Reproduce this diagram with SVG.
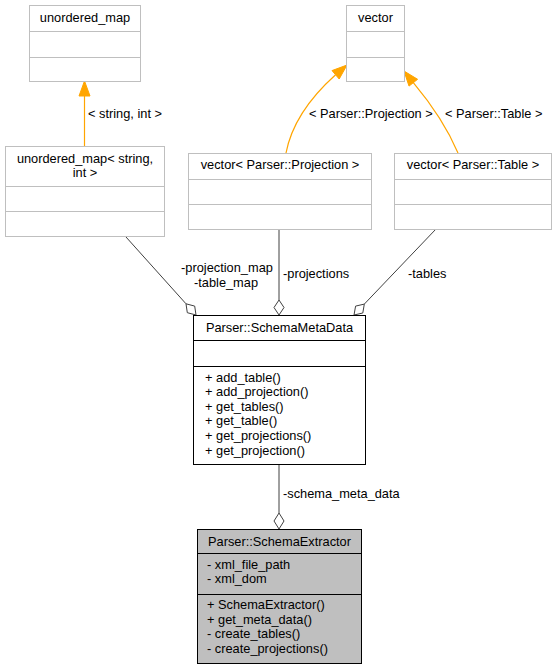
<svg xmlns="http://www.w3.org/2000/svg" width="556" height="669" viewBox="0 0 556 669">
<style>
text{font-family:"Liberation Sans",Arial,Helvetica,sans-serif;font-size:12.8px;fill:#000}
.c{text-anchor:middle}
.gb{fill:#fff;stroke:#bfbfbf;stroke-width:1}
.bb{fill:#fff;stroke:#000;stroke-width:1}
.gf{fill:#bfbfbf;stroke:#000;stroke-width:1}
.gl{stroke:#bfbfbf;stroke-width:1}
.bl{stroke:#000;stroke-width:1}
.inh{fill:none;stroke:#ffa500;stroke-width:1.2}
.ah{fill:#ffa500;stroke:#ffa500;stroke-width:1}
.use{fill:none;stroke:#404040;stroke-width:1}
.dm{fill:#fff;stroke:#404040;stroke-width:1}
</style>
<rect width="556" height="669" fill="#fff"/>
<g id="connectors">
  <path class="inh" d="M84.5,146 L84.5,96"/>
  <polygon class="ah" points="84.5,81 90,96 79,96"/>
  <text x="88" y="118">&lt; string, int &gt;</text>
  <path class="inh" d="M286,153 C292,122 312,96 335.6,74.8"/>
  <polygon class="ah" points="347,65 339.2,79 332,70.6"/>
  <text x="309" y="118">&lt; Parser::Projection &gt;</text>
  <path class="inh" d="M458,153 C449,132 432,105 413.3,82.7"/>
  <polygon class="ah" points="404,71 417.6,79.3 409,86.1"/>
  <text x="445" y="118">&lt; Parser::Table &gt;</text>
  <path class="use" d="M126,237 L186,303.8"/>
  <polygon class="dm" points="196,315 187.3,312.7 186,303.8 194.7,306.1"/>
  <text class="c" x="227" y="272">-projection_map</text>
  <text class="c" x="226" y="286.5">-table_map</text>
  <path class="use" d="M279,229 L279,300"/>
  <polygon class="dm" points="279,315 284,307.5 279,300 274,307.5"/>
  <text x="283" y="278">-projections</text>
  <path class="use" d="M436,229 L364.3,304.1"/>
  <polygon class="dm" points="354,315 355.6,306.1 364.3,304.1 362.8,313"/>
  <text x="408" y="278">-tables</text>
  <path class="use" d="M279,464 L279,513"/>
  <polygon class="dm" points="279,529 284,521 279,513 274,521"/>
  <text x="283" y="498">-schema_meta_data</text>
</g>
<g id="unordered_map">
  <rect class="gb" x="29.5" y="5.5" width="111" height="76"/>
  <line class="gl" x1="29.5" y1="31.5" x2="140.5" y2="31.5"/>
  <line class="gl" x1="29.5" y1="57.5" x2="140.5" y2="57.5"/>
  <text class="c" x="85" y="22">unordered_map</text>
</g>
<g id="unordered_map_string_int">
  <rect class="gb" x="5.5" y="146.5" width="159" height="90"/>
  <line class="gl" x1="5.5" y1="186.5" x2="164.5" y2="186.5"/>
  <line class="gl" x1="5.5" y1="211.5" x2="164.5" y2="211.5"/>
  <text class="c" x="85" y="163">unordered_map&lt; string,</text>
  <text class="c" x="85" y="177">int &gt;</text>
</g>
<g id="vector">
  <rect class="gb" x="346.5" y="5.5" width="58" height="76"/>
  <line class="gl" x1="346.5" y1="31.5" x2="404.5" y2="31.5"/>
  <line class="gl" x1="346.5" y1="57.5" x2="404.5" y2="57.5"/>
  <text class="c" x="375.5" y="22">vector</text>
</g>
<g id="vector_projection">
  <rect class="gb" x="188.5" y="153.5" width="183" height="76"/>
  <line class="gl" x1="188.5" y1="179.5" x2="371.5" y2="179.5"/>
  <line class="gl" x1="188.5" y1="204.5" x2="371.5" y2="204.5"/>
  <text class="c" x="280" y="169">vector&lt; Parser::Projection &gt;</text>
</g>
<g id="vector_table">
  <rect class="gb" x="394.5" y="153.5" width="157" height="76"/>
  <line class="gl" x1="394.5" y1="179.5" x2="551.5" y2="179.5"/>
  <line class="gl" x1="394.5" y1="204.5" x2="551.5" y2="204.5"/>
  <text class="c" x="473" y="169">vector&lt; Parser::Table &gt;</text>
</g>
<g id="SchemaMetaData">
  <rect class="bb" x="193.5" y="315.5" width="172" height="149"/>
  <line class="bl" x1="193.5" y1="340.5" x2="365.5" y2="340.5"/>
  <line class="bl" x1="193.5" y1="366.5" x2="365.5" y2="366.5"/>
  <text class="c" x="279.5" y="331.5">Parser::SchemaMetaData</text>
  <text x="205" y="381.5">+ add_table()</text>
  <text x="205" y="396.1">+ add_projection()</text>
  <text x="205" y="410.7">+ get_tables()</text>
  <text x="205" y="425.3">+ get_table()</text>
  <text x="205" y="439.9">+ get_projections()</text>
  <text x="205" y="454.5">+ get_projection()</text>
</g>
<g id="SchemaExtractor">
  <rect class="gf" x="197.5" y="529.5" width="164" height="134"/>
  <line class="bl" x1="197.5" y1="553.5" x2="361.5" y2="553.5"/>
  <line class="bl" x1="197.5" y1="594.5" x2="361.5" y2="594.5"/>
  <text class="c" x="279.5" y="545.5">Parser::SchemaExtractor</text>
  <text x="207" y="568.5">- xml_file_path</text>
  <text x="207" y="583">- xml_dom</text>
  <text x="207" y="609">+ SchemaExtractor()</text>
  <text x="207" y="623.6">+ get_meta_data()</text>
  <text x="207" y="638.2">- create_tables()</text>
  <text x="207" y="652.8">- create_projections()</text>
</g>
</svg>
